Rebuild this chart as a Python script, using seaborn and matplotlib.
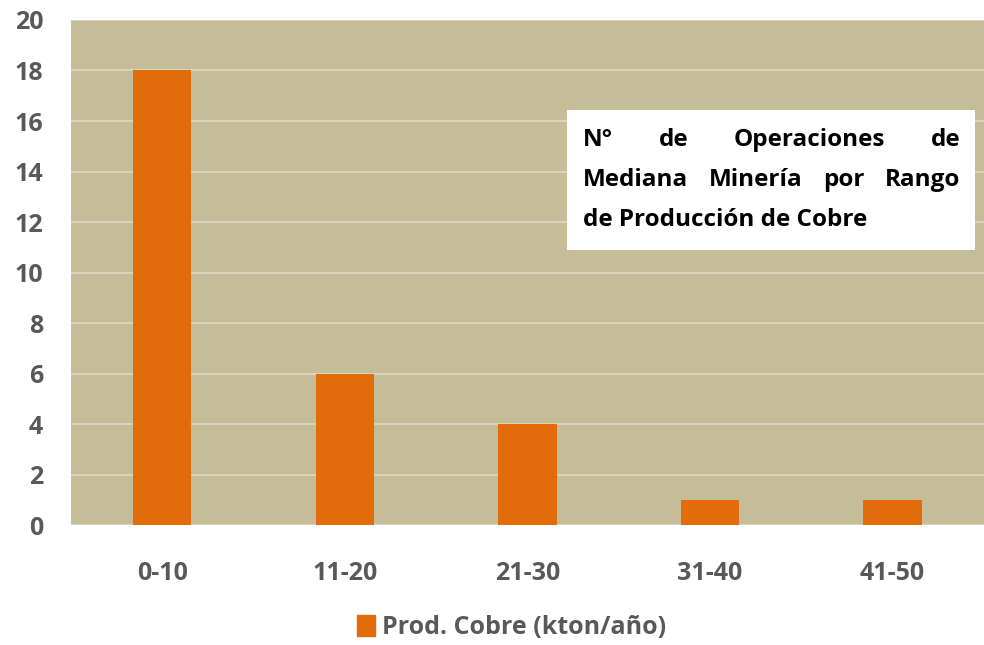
import matplotlib
matplotlib.use("Agg")
import matplotlib.pyplot as plt
import matplotlib.patches as mpatches
import pandas as pd
import seaborn as sns

# Data
rangos = ["0-10", "11-20", "21-30", "31-40", "41-50"]
operaciones = [18, 6, 4, 1, 1]
serie = "Prod. Cobre (kton/año)"
titulo_lineas = [
    ["N°", "de", "Operaciones", "de"],
    ["Mediana", "Minería", "por", "Rango"],
    ["de Producción de Cobre"],
]

bar_color = "#E36C0A"
bg_color = "#C4BD97"
grid_color = "#DDD9C3"
label_color = "#595959"

df = pd.DataFrame({"rango": rangos, "n": operaciones})

sns.set_style("white")
plt.rcParams["font.family"] = ["Open Sans", "DejaVu Sans"]

fig = plt.figure(figsize=(9.84, 6.45), dpi=100)
ax = fig.add_axes([0.072, 0.186, 0.928, 0.783])
ax.set_facecolor(bg_color)

sns.barplot(data=df, x="rango", y="n", color=bar_color, saturation=1,
            width=0.32, linewidth=0, ax=ax, zorder=3)

ax.set_ylim(0, 20)
ax.set_xlim(-0.5, 4.5)
ax.set_yticks(range(0, 21, 2))
ax.yaxis.grid(True, color=grid_color, linewidth=1.2, zorder=0)
ax.set_axisbelow(True)
for s in ax.spines.values():
    s.set_visible(False)
ax.set_xlabel("")
ax.set_ylabel("")
ax.tick_params(axis="y", length=0, pad=20, labelsize=18, labelcolor=label_color)
ax.tick_params(axis="x", length=0, pad=26, labelsize=18, labelcolor=label_color)
for t in ax.get_xticklabels() + ax.get_yticklabels():
    t.set_fontweight("bold")

# legend
handle = mpatches.Patch(color=bar_color, label=serie)
fig.legend(handles=[handle], loc="center", bbox_to_anchor=(0.52, 0.027),
           frameon=False, handlelength=0.7, handleheight=0.9, handletextpad=0.3,
           prop={"size": 18, "weight": "bold"}, labelcolor=label_color)

# title box (justified text)
box_x0, box_x1 = 567 / 984, 975 / 984
box_y0, box_y1 = 1 - 250 / 645, 1 - 110 / 645
fig.patches.append(mpatches.Rectangle((box_x0, box_y0), box_x1 - box_x0, box_y1 - box_y0,
                                      transform=fig.transFigure, facecolor="white",
                                      edgecolor="none", zorder=5))
tx0, tx1 = 583 / 984, 960 / 984
line_y = [1 - 140 / 645, 1 - 180 / 645, 1 - 220 / 645]
renderer = fig.canvas.get_renderer()
for words, y in zip(titulo_lineas, line_y):
    texts = [fig.text(0, y, w, fontsize=17.5, fontweight="bold", color="black",
                      va="center", ha="left", zorder=6) for w in words]
    if len(texts) == 1:
        texts[0].set_x(tx0)
        continue
    widths = [t.get_window_extent(renderer).width / fig.bbox.width for t in texts]
    gap = (tx1 - tx0 - sum(widths)) / (len(texts) - 1)
    x = tx0
    for t, w in zip(texts, widths):
        t.set_x(x)
        x += w + gap

fig.savefig("out.png", dpi=100)
